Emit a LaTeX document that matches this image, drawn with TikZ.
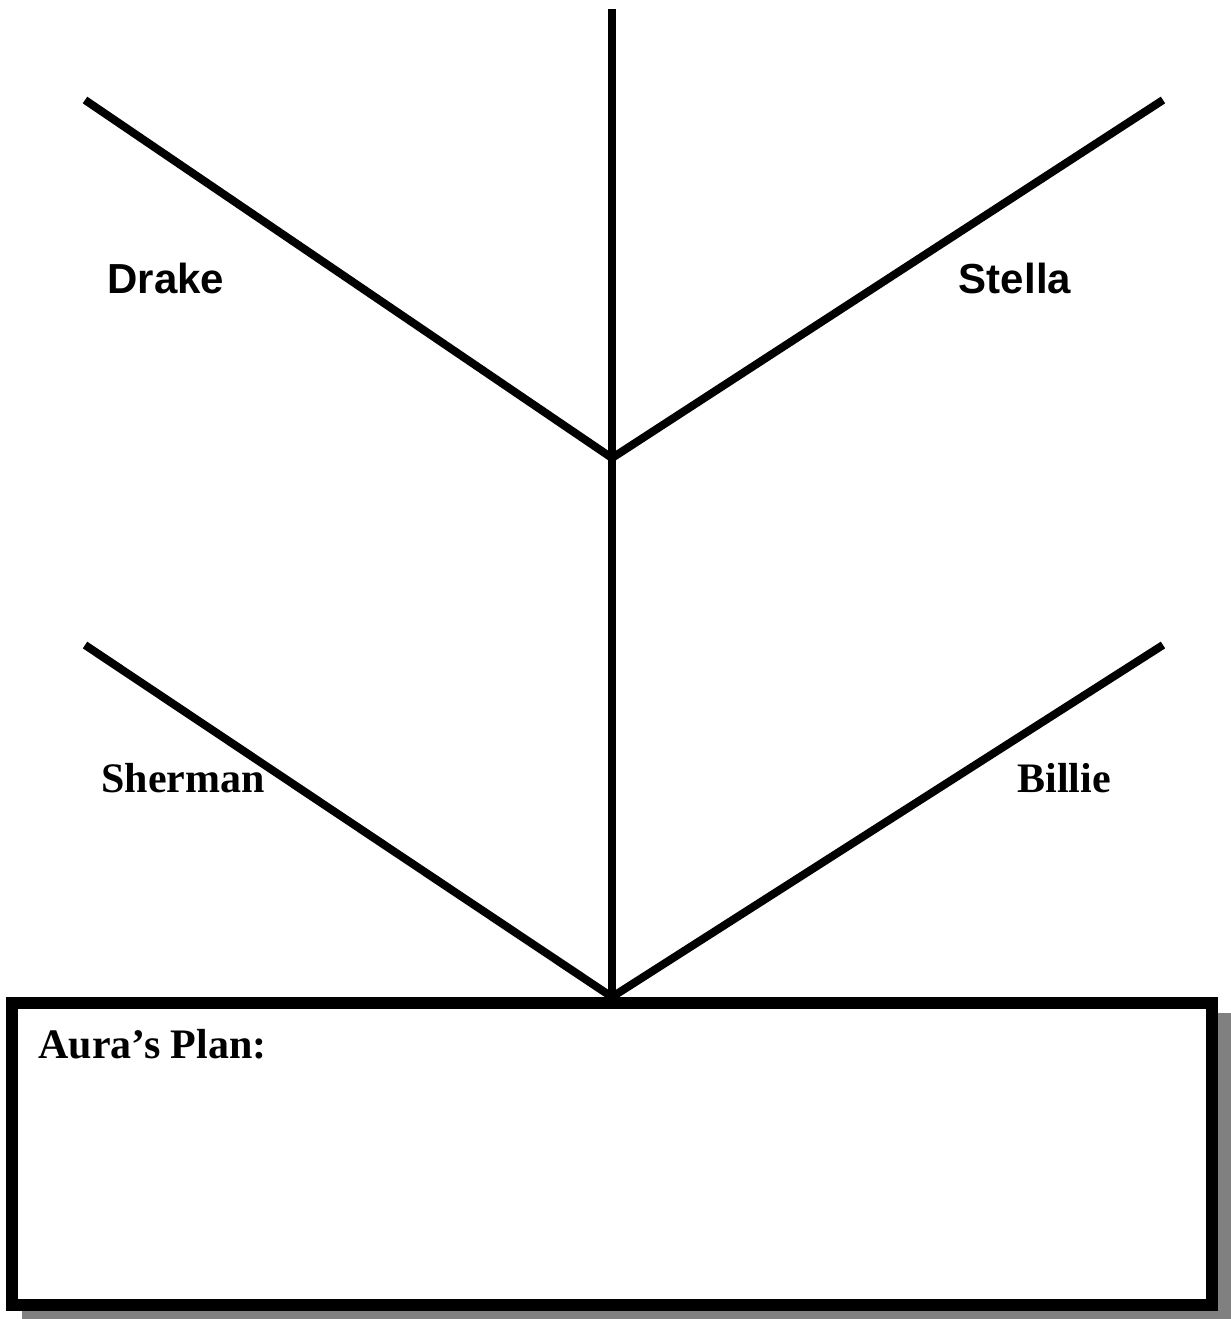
\documentclass[tikz,border=0pt]{standalone}
\usepackage{fontspec}
\setmainfont{Liberation Serif}
\setsansfont{Liberation Sans}
\usetikzlibrary{calc}
\definecolor{cTinta}{HTML}{000000}
\definecolor{cSombra}{HTML}{808080}
\tikzset{
    x=0.5pt, y=-0.5pt,
    rama/.style={draw=cTinta, line width=4pt},
    caja/.style={draw=cTinta, line width=6pt, fill=white},
    sombra/.style={fill=cSombra, draw=none},
    nombre/.style={font=\sffamily\bfseries\fontsize{21}{25}\selectfont, inner sep=0pt},
    nombreserif/.style={font=\rmfamily\bfseries\fontsize{21}{25}\selectfont, inner sep=0pt},
}

\begin{document}
\begin{tikzpicture}
    \useasboundingbox (0,0) rectangle (1231,1319);

    % tronco y horquillas
    \coordinate (cima) at (612,9);
    \coordinate (horq) at (612,458);
    \coordinate (base) at (612,997);
    \coordinate (supIzq) at (85,100);
    \coordinate (supDer) at (1163,100);
    \coordinate (infIzq) at (85,645);
    \coordinate (infDer) at (1163,645);

    % recuadro con sombra
    \fill[sombra] (22,1013) rectangle (1234,1327);
    \draw[caja] (12,1003) rectangle (1212,1305);
    \node[nombreserif, anchor=base west] (plan) at (38,1058) {Aura’s Plan:};

    \draw[rama] (cima) -- (base);
    \draw[rama] (supIzq) -- (horq) -- (supDer);
    \draw[rama] (infIzq) -- (base) -- (infDer);

    \node[nombre] (drake) at (166,278) {Drake};
    \node[nombre] (stella) at (1015,278) {Stella};
    \node[nombreserif] (sherman) at (183,778) {Sherman};
    \node[nombreserif] (billie) at (1064,778) {Billie};
\end{tikzpicture}
\end{document}
